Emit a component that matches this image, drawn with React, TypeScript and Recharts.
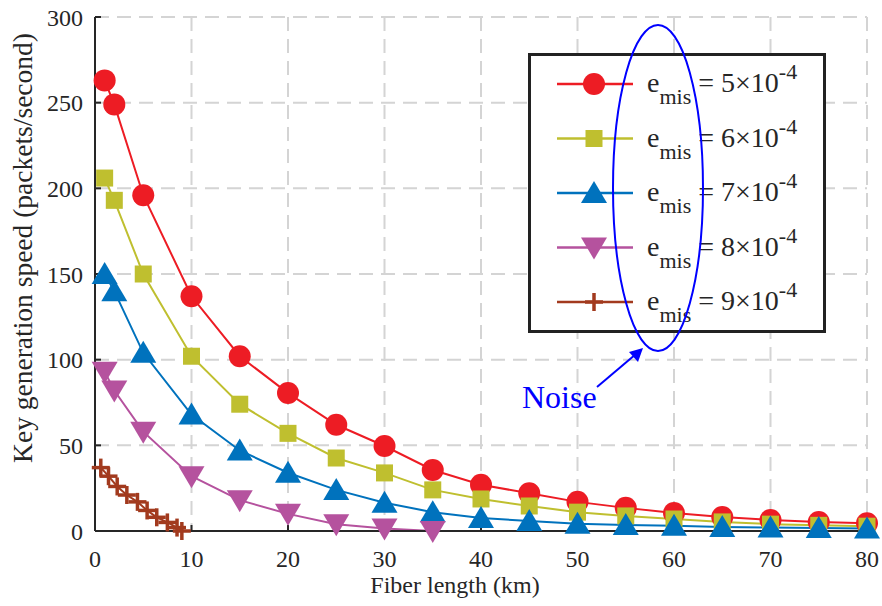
import React from 'react';
import { LineChart, Line, XAxis, YAxis, CartesianGrid, Legend } from 'recharts';

// fiber length (km) and key generation speed (packets/second)
const distances = [1, 2, 5, 10, 15, 20, 25, 30, 35, 40, 45, 50, 55, 60, 65, 70, 75, 80];
const speed5 = [263, 249, 196, 137, 102, 80.5, 62, 49.6, 35.6, 27, 22, 17, 13.5, 10.5, 8.2, 6.4, 5.3, 4.5];
const speed6 = [206, 193, 150, 102, 74, 57, 42.6, 33.9, 24, 18.7, 14.6, 11, 8.8, 7, 5.3, 4, 3.3, 2.8];
const speed7 = [150, 140, 104, 68, 47, 34, 24, 16.5, 11, 7.6, 5.8, 4.2, 3.5, 3, 2.3, 2, 1.7, 1.5];
const distances8 = [1, 2, 5, 10, 15, 20, 25, 30, 35];
const speed8 = [93, 82, 58, 32, 18, 10, 4, 1.5, 0];
const distances9 = [0.6, 1.4, 2.3, 3.3, 4.4, 5.4, 6.4, 7.5, 8.5, 9];
const speed9 = [37, 32, 26, 21, 17, 12, 8, 5, 2, 0];

const xTicks = [0, 10, 20, 30, 40, 50, 60, 70, 80];
const yTicks = [0, 50, 100, 150, 200, 250, 300];
const coefficients = ['5', '6', '7', '8', '9'];

const FONT = '"Liberation Serif", "Times New Roman", serif';
const AXIS = '#262626';

type Shape = 'circle' | 'square' | 'up' | 'down' | 'plus';

const series: { shape: Shape; color: string; xs: number[]; ys: number[] }[] = [
  { shape: 'circle', color: '#ED1C24', xs: distances, ys: speed5 },
  { shape: 'square', color: '#BFBF2F', xs: distances, ys: speed6 },
  { shape: 'up', color: '#0072BD', xs: distances, ys: speed7 },
  { shape: 'down', color: '#B5529E', xs: distances8, ys: speed8 },
  { shape: 'plus', color: '#A23A1E', xs: distances9, ys: speed9 },
];

function Marker({ shape, cx, cy, color }: { shape: Shape; cx: number; cy: number; color: string }) {
  if (cx == null || cy == null) return null;
  switch (shape) {
    case 'circle':
      return <circle cx={cx} cy={cy} r={11} fill={color} />;
    case 'square':
      return <rect x={cx - 8.5} y={cy - 8.5} width={17} height={17} fill={color} />;
    case 'up':
      return <polygon points={`${cx},${cy - 12} ${cx - 13},${cy + 10} ${cx + 13},${cy + 10}`} fill={color} />;
    case 'down':
      return <polygon points={`${cx - 13},${cy - 10} ${cx + 13},${cy - 10} ${cx},${cy + 12}`} fill={color} />;
    default:
      return (
        <g stroke={color} strokeWidth={3.5}>
          <line x1={cx - 9} y1={cy} x2={cx + 9} y2={cy} />
          <line x1={cx} y1={cy - 9} x2={cx} y2={cy + 9} />
        </g>
      );
  }
}

function LegendBox() {
  return (
    <div
      style={{
        width: 298,
        height: 280,
        boxSizing: 'border-box',
        border: '3px solid #222',
        background: '#fff',
      }}
    >
      <svg width={292} height={274} style={{ display: 'block' }}>
        {series.map((s, i) => {
          const cy = 28 + 54.5 * i;
          return (
            <g key={i}>
              <line x1={26} y1={cy} x2={102} y2={cy} stroke={s.color} strokeWidth={2.5} />
              <Marker shape={s.shape} cx={63} cy={cy} color={s.color} />
              <text x={116} y={cy + 8} style={{ fontFamily: FONT }} fontSize={28} fill={AXIS}>
                e
                <tspan dy={12} fontSize={22}>mis</tspan>
                <tspan dy={-12} fontSize={28}> = {coefficients[i]}×10</tspan>
                <tspan dy={-13} fontSize={22}>-4</tspan>
              </text>
            </g>
          );
        })}
      </svg>
    </div>
  );
}

function XLabel(props: any) {
  const vb = props.viewBox || {};
  return (
    <text x={vb.x + vb.width / 2 - 26} y={593} textAnchor="middle" style={{ fontFamily: FONT }} fontSize={24} fill={AXIS}>
      Fiber length (km)
    </text>
  );
}

function YLabel() {
  return (
    <text
      x={32}
      y={248}
      transform="rotate(-90, 32, 248)"
      textAnchor="middle"
      style={{ fontFamily: FONT }}
      fontSize={27.5}
      fill={AXIS}
    >
      Key generation speed (packets/second)
    </text>
  );
}

export default function App() {
  const tickStyle = { fontFamily: FONT, fontSize: 24, fill: AXIS };
  const lineStyle = { stroke: AXIS, strokeWidth: 2 };
  return (
    <div style={{ position: 'absolute', left: 0, top: 0, width: 882, height: 606, background: '#fff' }}>
      <LineChart width={882} height={606} margin={{ top: 17, right: 15, left: 0, bottom: 0 }}>
        <CartesianGrid xAxisId="b" yAxisId="l" stroke="#d4d4d4" strokeWidth={2} strokeDasharray="14 8" />
        <XAxis
          xAxisId="b"
          type="number"
          dataKey="x"
          domain={[0, 80]}
          ticks={xTicks}
          height={75}
          tick={tickStyle}
          tickSize={-6}
          tickMargin={25}
          axisLine={lineStyle}
          tickLine={lineStyle}
          label={<XLabel />}
        />
        <XAxis
          xAxisId="t"
          orientation="top"
          type="number"
          dataKey="x"
          domain={[0, 80]}
          ticks={xTicks}
          height={0}
          tick={false}
          tickSize={-6}
          axisLine={lineStyle}
          tickLine={lineStyle}
        />
        <YAxis
          yAxisId="l"
          type="number"
          domain={[0, 300]}
          ticks={yTicks}
          width={95}
          tick={tickStyle}
          tickSize={-6}
          tickMargin={18}
          axisLine={lineStyle}
          tickLine={lineStyle}
          label={<YLabel />}
        />
        <YAxis
          yAxisId="r"
          orientation="right"
          type="number"
          domain={[0, 300]}
          ticks={yTicks}
          width={0}
          tick={false}
          tickSize={-6}
          axisLine={lineStyle}
          tickLine={lineStyle}
        />
        {series.map((s, i) => (
          <Line
            key={i}
            xAxisId="b"
            yAxisId="l"
            data={s.xs.map((x, j) => ({ x, y: s.ys[j] }))}
            dataKey="y"
            type="linear"
            stroke={s.color}
            strokeWidth={2}
            isAnimationActive={false}
            legendType="none"
            dot={(p: any) => <Marker key={`${i}-${p.index}`} shape={s.shape} cx={p.cx} cy={p.cy} color={s.color} />}
            activeDot={false}
          />
        ))}
        <Legend
          content={<LegendBox />}
          layout="vertical"
          align="center"
          verticalAlign="middle"
          wrapperStyle={{ left: 528, top: 53, width: 298, height: 280 }}
        />
      </LineChart>
      <svg
        width={882}
        height={606}
        style={{ position: 'absolute', left: 0, top: 0, pointerEvents: 'none' }}
      >
        <ellipse cx={658} cy={188} rx={45} ry={163} fill="none" stroke="#0000ff" strokeWidth={2} />
        <line x1={597} y1={387} x2={636} y2={354} stroke="#0000ff" strokeWidth={2} />
        <polygon points="643,348 629,352 638,362" fill="#0000ff" />
        <text x={522} y={408} style={{ fontFamily: FONT }} fontSize={32} fill="#0000ff">
          Noise
        </text>
      </svg>
    </div>
  );
}
